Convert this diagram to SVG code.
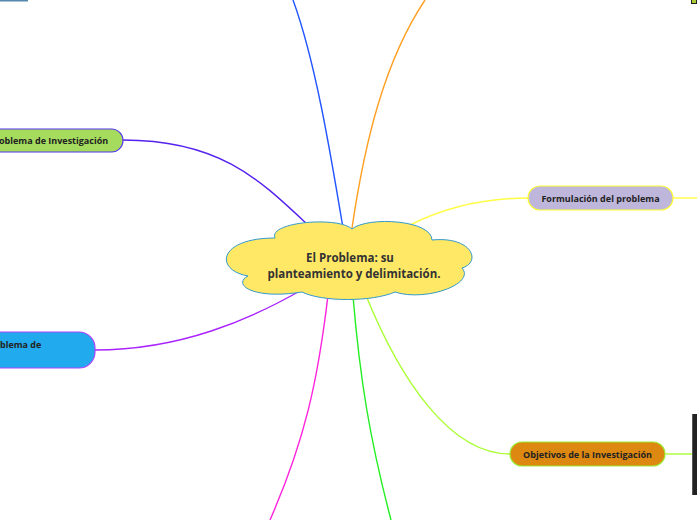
<svg xmlns="http://www.w3.org/2000/svg" width="697" height="520" viewBox="0 0 697 520">
<style>
.c{fill:none;stroke-width:1.4}
.t{font-family:"Open Sans","Noto Sans",sans-serif;font-weight:bold;font-size:9px;fill:#222}
.ct{font-family:"Open Sans","Noto Sans",sans-serif;font-weight:bold;font-size:11.5px;fill:#333;text-anchor:middle}
</style>
<rect width="697" height="520" fill="#fff"/>
<g id="connectors">
<path class="c" stroke="#2255ff" d="M343,228 C330,150 315,60 293,0"/>
<path class="c" stroke="#ff9f22" d="M352,228 C365,140 385,60 425,0"/>
<path class="c" stroke="#5522ee" d="M308,225 C260,180 220,140 123,140"/>
<path class="c" stroke="#ffff44" d="M410,225 C450,205 490,198 528,198"/>
<path class="c" stroke="#ffff44" d="M673,198 L697,198"/>
<path class="c" stroke="#aa22ff" d="M305,288 C250,320 180,350 95,350"/>
<path class="c" stroke="#ff22dd" d="M328,295 C318,380 305,440 270,520"/>
<path class="c" stroke="#22ee22" d="M353,296 C360,380 370,440 391,520"/>
<path class="c" stroke="#aaff33" d="M365,293 C400,380 450,454 510,454"/>
<path class="c" stroke="#aaff33" d="M665,454 L692,454"/>
</g>
<g id="top-left">
<rect x="0" y="0" width="28" height="1.5" fill="#5588aa"/>
</g>
<g id="top-right">
<rect x="691.5" y="-1" width="5" height="4.5" fill="#aacc33" stroke="#222" stroke-width="1"/>
</g>
<g id="center">
<path d="M275,238 C268,222 338,216 352,229 C368,216 432,220 432,240 C472,236 482,262 462,268 C476,284 425,302 395,292 C372,302 322,302 302,292 C252,300 232,284 248,276 C214,270 218,238 275,238 Z" fill="#ffe866" stroke="#3399cc" stroke-width="1"/>
<text class="ct" x="350" y="262">El Problema: su</text>
<text class="ct" x="354" y="278">planteamiento y delimitación.</text>
</g>
<g id="problema-investigacion">
<rect x="-20" y="129" width="143" height="23" rx="11.5" fill="#a6dc5e" stroke="#5533ee" stroke-width="1.2"/>
<text class="t" x="-1" y="144">oblema de Investigación</text>
</g>
<g id="problema-de">
<rect x="-30" y="332" width="125" height="36" rx="16" fill="#22aaee" stroke="#aa44ff" stroke-width="1.2"/>
<text class="t" x="0" y="348">blema de</text>
</g>
<g id="formulacion">
<rect x="528" y="186" width="145" height="24" rx="12" fill="#bfb6dc" stroke="#ffff33" stroke-width="1.2"/>
<text class="t" x="600.5" y="201.5" text-anchor="middle">Formulación del problema</text>
</g>
<g id="objetivos">
<rect x="510" y="442" width="155" height="24" rx="12" fill="#dd8811" stroke="#99ee33" stroke-width="1.2"/>
<text class="t" x="587.5" y="457.5" text-anchor="middle">Objetivos de la Investigación</text>
</g>
<g id="right-box">
<rect x="692" y="414" width="6" height="81" fill="#222"/>
<rect x="692" y="414" width="1" height="81" fill="#555"/>
</g>
</svg>
